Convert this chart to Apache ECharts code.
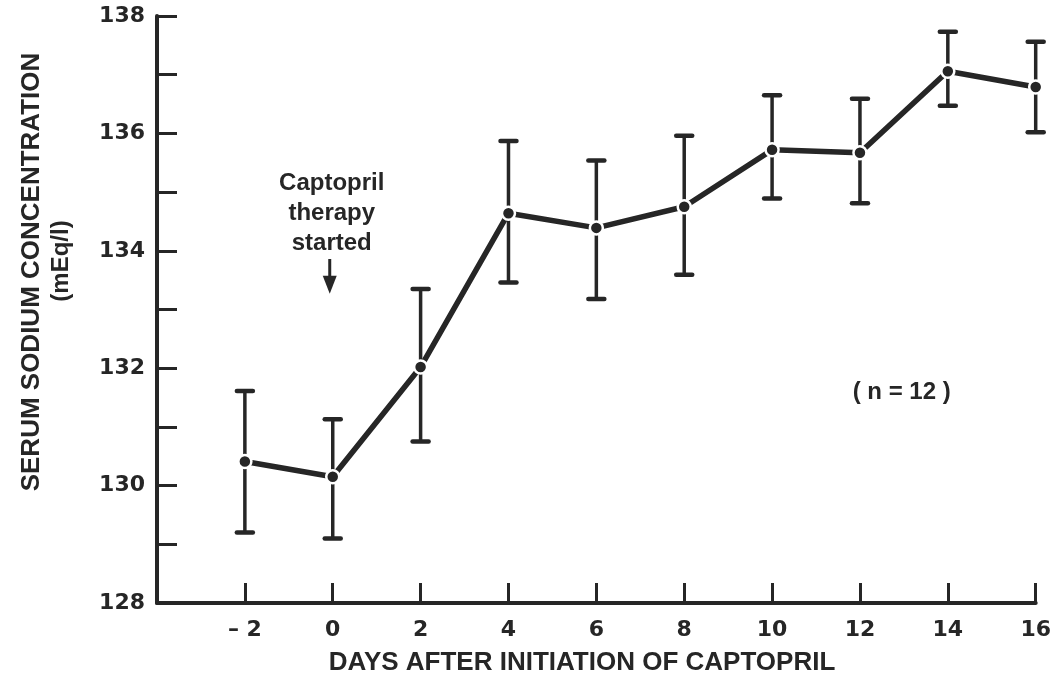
<!DOCTYPE html>
<html>
<head>
<meta charset="utf-8">
<script src="https://cdn.jsdelivr.net/npm/echarts@6/dist/echarts.min.js"></script>
<style>html,body{margin:0;padding:0;background:#fff;}#c{width:1054px;height:681px;}</style>
</head>
<body>
<div id="c"></div>
<script>
// ---- data ----
var days = [-2, 0, 2, 4, 6, 8, 10, 12, 14, 16];
var meanNa = [130.41, 130.15, 132.02, 134.64, 134.39, 134.75, 135.72, 135.67, 137.06, 136.79];
var upperNa = [131.61, 131.13, 133.35, 135.87, 135.54, 135.96, 136.65, 136.59, 137.73, 137.56];
var lowerNa = [129.20, 129.10, 130.75, 133.46, 133.18, 133.59, 134.89, 134.81, 136.47, 136.02];
var yTickLabels = ['128', '130', '132', '134', '136', '138'];
var xTickLabels = ['– 2', '0', '2', '4', '6', '8', '10', '12', '14', '16'];

var ink = '#262626';
var fontNum = 'DejaVu Sans';
var fontTxt = 'Liberation Sans';

var chart = echarts.init(document.getElementById('c'));
var meanData = days.map(function (d, i) { return [d, meanNa[i]]; });
var errData = days.map(function (d, i) { return [d, lowerNa[i], upperNa[i]]; });

chart.setOption({
  animation: false,
  backgroundColor: '#fff',
  grid: { left: 157, right: 18, top: 16, bottom: 78 },
  xAxis: {
    type: 'value', min: -4, max: 16, interval: 2,
    splitLine: { show: false },
    axisLine: { show: true, onZero: false, lineStyle: { color: ink, width: 4 } },
    axisTick: { show: true, inside: true, length: 20, lineStyle: { color: ink, width: 3 } },
    axisLabel: {
      margin: 16, fontSize: 22, fontWeight: 'bold', fontFamily: fontNum, color: ink,
      formatter: function (v) {
        var k = days.indexOf(v);
        return k >= 0 ? xTickLabels[k] : '';
      }
    }
  },
  yAxis: {
    type: 'value', min: 128, max: 138, interval: 1,
    splitLine: { show: false },
    axisLine: { show: true, onZero: false, lineStyle: { color: ink, width: 4 } },
    axisTick: { show: true, inside: true, length: 20, lineStyle: { color: ink, width: 3 } },
    axisLabel: {
      margin: 12, fontSize: 22, fontWeight: 'bold', fontFamily: fontNum, color: ink,
      formatter: function (v) {
        var s = String(v);
        return yTickLabels.indexOf(s) >= 0 ? s : '';
      }
    }
  },
  series: [
    {
      type: 'custom',
      z: 1,
      data: errData,
      renderItem: function (params, api) {
        var x = api.value(0);
        var lo = api.coord([x, api.value(1)]);
        var hi = api.coord([x, api.value(2)]);
        var cw = 8;
        return {
          type: 'group',
          children: [
            { type: 'line', shape: { x1: lo[0], y1: lo[1], x2: hi[0], y2: hi[1] },
              style: { stroke: ink, lineWidth: 3.5 } },
            { type: 'line', shape: { x1: lo[0] - cw, y1: lo[1], x2: lo[0] + cw, y2: lo[1] },
              style: { stroke: ink, lineWidth: 4.5, lineCap: 'round' } },
            { type: 'line', shape: { x1: hi[0] - cw, y1: hi[1], x2: hi[0] + cw, y2: hi[1] },
              style: { stroke: ink, lineWidth: 4.5, lineCap: 'round' } }
          ]
        };
      }
    },
    {
      type: 'line',
      z: 2,
      data: meanData,
      symbol: 'circle',
      symbolSize: 13,
      lineStyle: { color: ink, width: 5.5 },
      itemStyle: { color: ink, borderColor: '#fff', borderWidth: 2.5 }
    }
  ]
});

function px(d, v) { return chart.convertToPixel({ gridIndex: 0 }, [d, v]); }
var cap = px(0, 134.64);
var aTop = px(0, 133.86);
var aBot = px(0, 133.27);
var nPos = px(12.95, 131.58);

chart.setOption({
  graphic: [
    { type: 'text', x: 32, y: 272, rotation: Math.PI / 2,
      style: { text: 'SERUM SODIUM CONCENTRATION', fontSize: 26, fontWeight: 'bold', fontFamily: fontTxt,
               fill: ink, align: 'center', verticalAlign: 'middle' } },
    { type: 'text', x: 61, y: 261, rotation: Math.PI / 2,
      style: { text: '(mEq/l)', fontSize: 24, fontWeight: 'bold', fontFamily: fontTxt,
               fill: ink, align: 'center', verticalAlign: 'middle' } },
    { type: 'text', x: 582, y: 663,
      style: { text: 'DAYS AFTER INITIATION OF CAPTOPRIL', fontSize: 26, fontWeight: 'bold', fontFamily: fontTxt,
               fill: ink, align: 'center', verticalAlign: 'middle' } },
    { type: 'text', x: cap[0] - 1, y: cap[1],
      style: { text: 'Captopril\ntherapy\nstarted', fontSize: 24, fontWeight: 'bold', fontFamily: fontTxt,
               lineHeight: 30, fill: ink, align: 'center', verticalAlign: 'middle' } },
    { type: 'line', shape: { x1: aTop[0] - 3, y1: aTop[1], x2: aTop[0] - 3, y2: aBot[1] - 14 },
      style: { stroke: ink, lineWidth: 3 } },
    { type: 'polygon', shape: { points: [[aTop[0] - 10, aBot[1] - 18], [aTop[0] + 4, aBot[1] - 18], [aTop[0] - 3, aBot[1]]] },
      style: { fill: ink } },
    { type: 'text', x: nPos[0], y: nPos[1],
      style: { text: '( n = 12 )', fontSize: 24, fontWeight: 'bold', fontFamily: fontTxt,
               fill: ink, align: 'center', verticalAlign: 'middle' } }
  ]
});
</script>
</body>
</html>
